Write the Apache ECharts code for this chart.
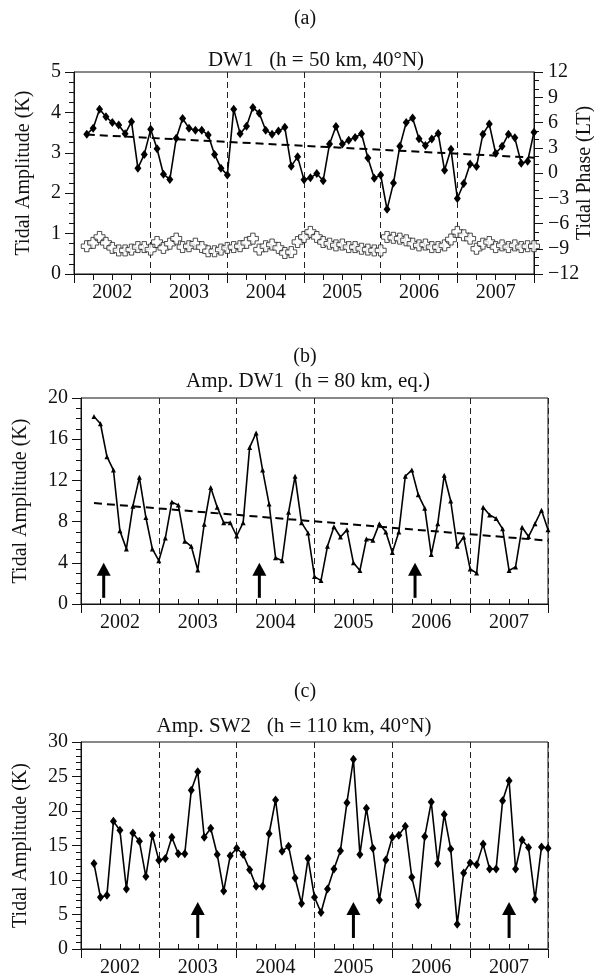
<!DOCTYPE html>
<html>
<head>
<meta charset="utf-8">
<script src="https://cdn.jsdelivr.net/npm/echarts@6/dist/echarts.min.js"></script>
<style>
html,body{margin:0;padding:0;background:#fff;}
#chart{width:594px;height:979px;}
</style>
</head>
<body>
<div id="chart"></div>
<script>
// ---------- data ----------
const years = ['2002','2003','2004','2005','2006','2007'];
// month index (months since Jan 2002); points Feb 2002 .. Dec 2007
const months = [];
for (let m = 2; m <= 72; m++) months.push(m);

// (a) DW1 amplitude at 50 km, 40N (K)
const ampA = [3.46,3.61,4.08,3.89,3.75,3.69,3.47,3.77,2.62,2.96,3.58,
  3.10,2.47,2.34,3.36,3.85,3.61,3.56,3.56,3.44,2.96,2.62,2.45,
  4.08,3.47,3.66,4.12,3.98,3.56,3.46,3.54,3.63,2.67,2.90,2.33,
  2.38,2.49,2.31,3.22,3.65,3.22,3.31,3.38,3.47,2.87,2.37,2.45,
  1.60,2.25,3.16,3.75,3.86,3.35,3.18,3.34,3.48,2.57,3.09,1.87,
  2.24,2.72,2.66,3.46,3.71,2.99,3.16,3.46,3.37,2.74,2.79,3.51];
// (a) DW1 phase (LT hours)
const phaseA = [-8.7,-8.3,-7.6,-8.3,-8.9,-9.2,-9.2,-9.1,-8.8,-8.8,-9.1,
  -8.2,-8.9,-8.4,-7.8,-8.8,-8.7,-8.4,-8.8,-9.3,-9.3,-9.1,-8.9,
  -8.8,-8.7,-8.3,-7.8,-9.1,-8.7,-8.5,-8.9,-9.5,-9.4,-8.2,-7.6,
  -7.0,-7.6,-8.2,-8.4,-8.6,-8.5,-8.8,-8.8,-9.0,-9.1,-9.2,-9.2,
  -7.6,-7.7,-7.8,-8.0,-8.4,-8.6,-8.5,-8.8,-8.8,-8.6,-7.9,-7.0,
  -7.4,-7.8,-9.0,-8.4,-8.2,-8.8,-8.6,-8.8,-8.6,-8.8,-8.7,-8.7];
const trendA = [3.45, 2.88];

// (b) DW1 amplitude at 80 km, equator (K)
const ampB = [18.2,17.5,14.3,13.0,7.1,5.35,9.5,12.3,8.4,5.35,4.2,
  6.4,9.9,9.6,6.1,5.6,3.3,7.75,11.3,9.4,7.9,7.9,6.6,
  7.9,15.2,16.6,13.0,9.7,4.5,4.2,8.9,12.4,7.9,6.9,2.66,
  2.27,5.6,7.5,6.5,7.2,4.0,3.25,6.3,6.2,7.8,7.0,5.0,
  7.0,12.4,13.0,10.6,9.3,4.8,7.8,12.5,10.0,5.6,6.5,3.4,
  3.0,9.4,8.65,8.3,7.3,3.25,3.6,7.45,6.55,7.8,9.1,7.2];
const trendB = [9.8, 6.15];
const arrowsBx = [3.5, 27.5, 51.5];
const arrowsBy = [0.6, 4.0];

// (c) SW2 amplitude at 110 km, 40N (K)
const ampC = [12.4,7.5,7.8,18.5,17.2,8.7,16.8,15.6,10.5,16.5,12.85,
  13.1,16.2,13.8,13.8,23.0,25.7,16.2,17.5,13.7,8.4,13.5,14.6,
  13.7,11.5,9.1,9.1,16.7,21.6,14.15,14.9,10.3,6.6,13.1,7.5,
  5.3,8.7,11.6,14.25,21.2,27.5,13.7,20.4,14.6,7.1,12.9,16.2,
  16.5,17.8,10.4,6.4,16.3,21.3,12.4,19.5,14.5,3.6,11.0,12.5,
  12.2,15.2,11.6,11.6,21.5,24.4,11.6,15.8,14.7,7.2,14.8,14.6];
const arrowsCx = [18, 42, 66];
const arrowsCy = [1.6, 6.8];

// ---------- helpers ----------
const FONT = 'Liberation Serif';
const BLACK = '#111';
const pairs = (xs, ys) => xs.map((x, i) => [x, ys[i]]);
const minus = v => String(v).replace('-', '\u2212');

const grids = [
  {left: 74, top: 72, width: 460, height: 202},
  {left: 81, top: 398, width: 467, height: 206},
  {left: 81, top: 742, width: 467, height: 207}
].map(g => Object.assign(g, {show: true, borderColor: BLACK, borderWidth: 1, backgroundColor: 'transparent'}));

function monthAxis(gi, minorInside) {
  return {
    type: 'value', gridIndex: gi, position: 'bottom', min: 0, max: 72, interval: 12,
    axisLine: {show: true, lineStyle: {color: BLACK, width: 1}},
    axisTick: {show: true, length: 9, lineStyle: {color: BLACK, width: 1}},
    minorTick: {show: true, splitNumber: 4, length: minorInside ? -5 : 6, lineStyle: {color: BLACK, width: 1}},
    axisLabel: {show: false},
    splitLine: {show: true, lineStyle: {color: '#222', width: 1, type: [6, 4]}}
  };
}
function yearAxis(gi) {
  return {
    type: 'category', gridIndex: gi, position: 'bottom', data: years, boundaryGap: true,
    axisLine: {show: false}, axisTick: {show: false}, splitLine: {show: false},
    axisLabel: {show: true, margin: 9, fontFamily: FONT, fontSize: 20, color: BLACK}
  };
}
function ampAxis(gi, max, interval, minorSplit, nameGap) {
  return {
    type: 'value', gridIndex: gi, position: 'left', min: 0, max: max, interval: interval,
    name: 'Tidal Amplitude (K)', nameLocation: 'middle', nameRotate: 90, nameGap: nameGap,
    nameTextStyle: {fontFamily: FONT, fontSize: 20, color: BLACK},
    axisLine: {show: true, lineStyle: {color: BLACK, width: 1}},
    axisTick: {show: true, length: 9, lineStyle: {color: BLACK}},
    minorTick: {show: true, splitNumber: minorSplit, length: 5, lineStyle: {color: BLACK}},
    axisLabel: {margin: 13, fontFamily: FONT, fontSize: 20, color: BLACK},
    splitLine: {show: false}
  };
}

function arrowRender(params, api) {
  const x = api.value(0), y0 = api.value(1), y1 = api.value(2);
  const p0 = api.coord([x, y0]);
  const p1 = api.coord([x, y1]);
  const hw = 7, hh = 13;
  return {
    type: 'group',
    children: [
      {type: 'line', shape: {x1: p0[0], y1: p0[1], x2: p1[0], y2: p1[1] + hh - 1},
        style: {stroke: '#000', lineWidth: 3}},
      {type: 'polygon', shape: {points: [[p1[0], p1[1]], [p1[0] - hw, p1[1] + hh], [p1[0] + hw, p1[1] + hh]]},
        style: {fill: '#000'}}
    ]
  };
}

const crossPath = 'path://M3,0L7,0L7,3L10,3L10,7L7,7L7,10L3,10L3,7L0,7L0,3L3,3Z';

const titleStyle = {fontFamily: FONT, fontSize: 21, fontWeight: 'normal', color: BLACK};
const labStyle = {fontFamily: FONT, fontSize: 20, fontWeight: 'normal', color: BLACK};

const option = {
  animation: false,
  backgroundColor: '#fff',
  title: [
    {text: '(a)', left: 305, top: 9, textAlign: 'center', padding: 0, textStyle: labStyle},
    {text: 'DW1   (h = 50 km, 40\u00B0N)', left: 316, top: 50, textAlign: 'center', padding: 0, textStyle: titleStyle},
    {text: '(b)', left: 305, top: 347, textAlign: 'center', padding: 0, textStyle: labStyle},
    {text: 'Amp. DW1  (h = 80 km, eq.)', left: 308, top: 371, textAlign: 'center', padding: 0, textStyle: titleStyle},
    {text: '(c)', left: 305, top: 682, textAlign: 'center', padding: 0, textStyle: labStyle},
    {text: 'Amp. SW2   (h = 110 km, 40\u00B0N)', left: 294, top: 716, textAlign: 'center', padding: 0, textStyle: titleStyle}
  ],
  graphic: [
    {type: 'text', x: 585, y: 173, rotation: Math.PI / 2, silent: true,
      style: {text: 'Tidal Phase (LT)', fontFamily: FONT, fontSize: 20, fill: BLACK,
        align: 'center', verticalAlign: 'middle'}}
  ],
  grid: grids,
  xAxis: [monthAxis(0, false), yearAxis(0), monthAxis(1, true), yearAxis(1), monthAxis(2, true), yearAxis(2)],
  yAxis: [
    ampAxis(0, 5, 1, 4, 40),
    {
      type: 'value', gridIndex: 0, position: 'right', min: -12, max: 12, interval: 3,
      axisLine: {show: true, lineStyle: {color: BLACK}},
      axisTick: {show: true, length: 9, lineStyle: {color: BLACK}},
      minorTick: {show: true, splitNumber: 3, length: 5, lineStyle: {color: BLACK}},
      axisLabel: {margin: 14, fontFamily: FONT, fontSize: 20, color: BLACK, formatter: minus},
      splitLine: {show: false}
    },
    ampAxis(1, 20, 4, 4, 50),
    ampAxis(2, 30, 5, 5, 50)
  ],
  series: [
    {type: 'line', xAxisIndex: 0, yAxisIndex: 0, data: pairs(months, ampA),
      symbol: 'diamond', symbolSize: [7, 9], itemStyle: {color: '#000'},
      lineStyle: {color: '#000', width: 1.6}, z: 5},
    {type: 'line', xAxisIndex: 0, yAxisIndex: 0, data: pairs([months[0], months[months.length - 1]], trendA),
      symbol: 'none', lineStyle: {color: '#000', width: 2, type: [8, 5]}, z: 4},
    {type: 'scatter', xAxisIndex: 0, yAxisIndex: 1, data: pairs(months, phaseA),
      symbol: crossPath, symbolSize: 11,
      itemStyle: {color: '#fff', borderColor: '#222', borderWidth: 1}, z: 3},

    {type: 'line', xAxisIndex: 2, yAxisIndex: 2, data: pairs(months, ampB),
      symbol: 'triangle', symbolSize: 5, itemStyle: {color: '#000'},
      lineStyle: {color: '#000', width: 1.6}, z: 5},
    {type: 'line', xAxisIndex: 2, yAxisIndex: 2, data: pairs([months[0], months[months.length - 1]], trendB),
      symbol: 'none', lineStyle: {color: '#000', width: 2, type: [8, 5]}, z: 4},
    {type: 'custom', xAxisIndex: 2, yAxisIndex: 2, renderItem: arrowRender,
      data: arrowsBx.map(x => [x, arrowsBy[0], arrowsBy[1]]), z: 6},

    {type: 'line', xAxisIndex: 4, yAxisIndex: 3, data: pairs(months, ampC),
      symbol: 'diamond', symbolSize: [7, 9], itemStyle: {color: '#000'},
      lineStyle: {color: '#000', width: 1.6}, z: 5},
    {type: 'custom', xAxisIndex: 4, yAxisIndex: 3, renderItem: arrowRender,
      data: arrowsCx.map(x => [x, arrowsCy[0], arrowsCy[1]]), z: 6}
  ]
};

const chart = echarts.init(document.getElementById('chart'), null, {renderer: 'canvas'});
chart.setOption(option);
</script>
</body>
</html>
